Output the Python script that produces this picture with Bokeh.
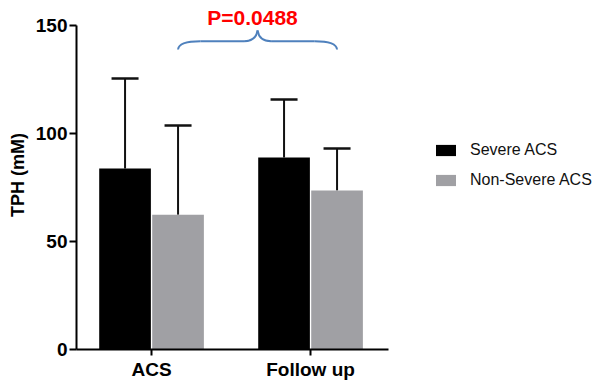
from bokeh.plotting import figure
from bokeh.models import (ColumnDataSource, Whisker, TeeHead, FixedTicker, Legend, LegendItem, Range1d)
from bokeh.core.properties import value
from bokeh.embed import file_html
from bokeh.resources import INLINE

categories = ["ACS", "Follow up"]
cat_pos = [1, 2]
severe = [83.8, 88.9]
severe_err = [41.7, 26.8]
nonsevere = [62.4, 73.6]
nonsevere_err = [41.3, 19.5]
series_names = ["Severe ACS", "Non-Severe ACS"]
p_text = "P=0.0488"

FONT = "Liberation Sans"
bar_w = 0.325
off = 1.0 / 6
XS = 159.0   # px per x unit
YS = 2.16    # px per y unit
FW, FH = 524, 349
x_start = 0.528

p = figure(frame_width=FW, frame_height=FH, output_backend="svg", toolbar_location=None,
           x_range=Range1d(x_start, x_start + FW / XS), y_range=Range1d(0, FH / YS),
           min_border_left=76, min_border_right=0, min_border_top=0, min_border_bottom=0)
p.outline_line_color = None
p.grid.visible = False

x_sev = [c - off for c in cat_pos]
x_non = [c + off for c in cat_pos]
src_sev = ColumnDataSource(dict(x=x_sev, top=severe, upper=[a + b for a, b in zip(severe, severe_err)]))
src_non = ColumnDataSource(dict(x=x_non, top=nonsevere, upper=[a + b for a, b in zip(nonsevere, nonsevere_err)]))

for src in (src_sev, src_non):
    w = Whisker(source=src, base="x", lower="top", upper="upper", dimension="height",
                line_width=2, line_color="#111111", lower_head=None,
                upper_head=TeeHead(size=27, line_width=2.5, line_color="#111111"))
    p.add_layout(w)

r_sev = p.vbar(x="x", top="top", width=bar_w, source=src_sev, fill_color="black", line_color=None)
r_non = p.vbar(x="x", top="top", width=bar_w, source=src_non, fill_color="#a0a0a4", line_color=None)

# brace between the two non-severe bars
x0 = x_non[0]
x1 = x_non[1]
xc = (x0 + x1) / 2
y_end, y_mid, y_peak = 138.9, 142.7, 147.7
bc = "#4f81bd"
dx_end, dx_mid = 0.14, 0.085
p.quadratic(x0=[x0, x1], y0=[y_end, y_end], x1=[x0 + dx_end, x1 - dx_end], y1=[y_mid, y_mid],
            cx=[x0 + 0.005, x1 - 0.005], cy=[y_mid, y_mid], line_color=bc, line_width=2)
p.segment(x0=[x0 + dx_end, xc + dx_mid], y0=[y_mid, y_mid], x1=[xc - dx_mid, x1 - dx_end], y1=[y_mid, y_mid],
          line_color=bc, line_width=2)
p.quadratic(x0=[xc - dx_mid, xc + dx_mid], y0=[y_mid, y_mid], x1=[xc, xc], y1=[y_peak, y_peak],
            cx=[xc - 0.01, xc + 0.01], cy=[y_mid, y_mid], line_color=bc, line_width=2)
p.text(x=[xc], y=[153.9], text=[p_text], text_align="center", text_baseline="middle",
       x_offset=-5, text_color="#ff0000", text_font=value(FONT), text_font_size="21px",
       text_font_style="bold")

# axes
for ax in (p.xaxis[0], p.yaxis[0]):
    ax.axis_line_width = 2
    ax.major_tick_line_width = 2
    ax.minor_tick_line_color = None
    ax.major_tick_in = 0
    ax.major_label_text_font = FONT
    ax.major_label_text_font_style = "bold"
    ax.major_label_text_font_size = "19px"
    ax.major_label_text_color = "black"
    ax.axis_line_color = "black"
    ax.major_tick_line_color = "black"

p.xaxis.bounds = (x_start, 2.49)
p.xaxis.ticker = FixedTicker(ticks=cat_pos)
p.xaxis.major_label_overrides = {c: lab for c, lab in zip(cat_pos, categories)}
p.xaxis.major_tick_out = 6
p.xaxis.major_label_standoff = 3

p.yaxis.bounds = (0, 150)
p.yaxis.ticker = FixedTicker(ticks=[0, 50, 100, 150])
p.yaxis.major_tick_out = 7
p.yaxis.major_label_standoff = 2
p.yaxis.axis_label = "TPH (mM)"
p.yaxis.axis_label_text_font = FONT
p.yaxis.axis_label_text_font_style = "bold"
p.yaxis.axis_label_text_font_size = "18px"
p.yaxis.axis_label_text_color = "black"
p.yaxis.axis_label_standoff = 5

legend = Legend(items=[LegendItem(label=series_names[0], renderers=[r_sev]),
                       LegendItem(label=series_names[1], renderers=[r_non])],
                location=(357, 159), orientation="vertical",
                glyph_width=25, glyph_height=14, label_standoff=12, spacing=10,
                label_height=20, padding=0, margin=0, border_line_color=None,
                background_fill_alpha=0, label_text_font=FONT, label_text_font_size="16px",
                label_text_color="#111111")
p.add_layout(legend)

open("out.html", "w").write(file_html(p, INLINE))
